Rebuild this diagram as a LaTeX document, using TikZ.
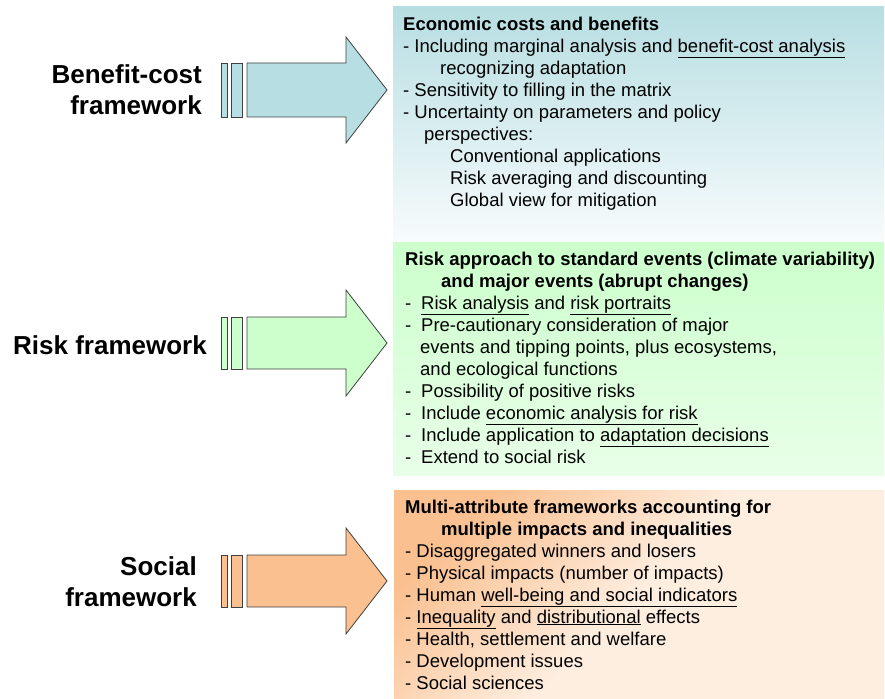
\documentclass[tikz,border=0pt]{standalone}
\usepackage{fontspec}
\setmainfont{Liberation Sans}
\definecolor{bcfill}{RGB}{183,222,226}
\definecolor{bclight}{RGB}{247,251,252}
\definecolor{riskfill}{RGB}{204,255,204}
\definecolor{risklight}{RGB}{232,255,232}
\definecolor{socfill}{RGB}{250,192,144}
\definecolor{soclight}{RGB}{254,238,224}
\newcommand{\dashitem}{\makebox[16pt][l]{-}}
\begin{document}
\begin{tikzpicture}[x=1pt,y=-1pt,
    outline/.style={draw=black!75,line width=0.8pt},
    framename/.style={font=\fontsize{26}{31}\selectfont\bfseries,align=right,anchor=base east,inner sep=0pt},
    boxtext/.style={font=\fontsize{18.5}{22}\selectfont,align=left,anchor=base west,inner sep=0pt}]
          \useasboundingbox (0,0) rectangle (885,698);

          \shade[top color=bcfill,bottom color=bclight] (393,7) rectangle (884,241);
          \shade[top color=riskfill,bottom color=risklight] (393,242) rectangle (884,475);
          \shade[top color=socfill,bottom color=soclight,middle color=soclight,shading angle=45] (394,490) rectangle (884,698);

          \draw[outline,fill=bcfill] (221,63) rectangle (227,117);
          \draw[outline,fill=bcfill] (231,63) rectangle (242,117);
          \draw[outline,fill=bcfill] (247,63) -- (346,63) -- (346,37) -- (387,90) -- (346,143) -- (346,117) -- (247,117) -- cycle;

          \draw[outline,fill=riskfill] (221,317) rectangle (227,369);
          \draw[outline,fill=riskfill] (231,317) rectangle (242,369);
          \draw[outline,fill=riskfill] (247,317) -- (346,317) -- (346,290) -- (387,343) -- (346,396) -- (346,369) -- (247,369) -- cycle;

          \draw[outline,fill=socfill] (221,555) rectangle (227,607);
          \draw[outline,fill=socfill] (231,555) rectangle (242,607);
          \draw[outline,fill=socfill] (247,555) -- (346,555) -- (346,528) -- (387,581) -- (346,634) -- (346,607) -- (247,607) -- cycle;

          \node[framename] (bcname) at (202,114) {Benefit-cost\\framework};
          \node[framename] (riskname) at (207,354) {Risk framework};
          \node[framename] (socname) at (197,606) {Social\\framework};

          \node[boxtext] (bctext) at (403,206) {\textbf{Economic costs and benefits}\\
            - Including marginal analysis and \underline{benefit-cost analysis}\\
            \hspace*{37pt}recognizing adaptation\\
            - Sensitivity to filling in the matrix\\
            - Uncertainty on parameters and policy\\
            \hspace*{21pt}perspectives:\\
            \hspace*{47pt}Conventional applications\\
            \hspace*{47pt}Risk averaging and discounting\\
            \hspace*{47pt}Global view for mitigation};
          \node[boxtext] (risktext) at (405,463) {\textbf{Risk approach to standard events (climate variability)}\\
            \hspace*{36pt}\textbf{and major events (abrupt changes)}\\
            \dashitem\underline{Risk analysis} and \underline{risk portraits}\\
            \dashitem Pre-cautionary consideration of major\\
            \hspace*{15pt}events and tipping points, plus ecosystems,\\
            \hspace*{15pt}and ecological functions\\
            \dashitem Possibility of positive risks\\
            \dashitem Include \underline{economic analysis for risk}\\
            \dashitem Include application to \underline{adaptation decisions}\\
            \dashitem Extend to social risk};
          \node[boxtext] (soctext) at (405,689) {\textbf{Multi-attribute frameworks accounting for}\\
            \hspace*{36pt}\textbf{multiple impacts and inequalities}\\
            - Disaggregated winners and losers\\
            - Physical impacts (number of impacts)\\
            - Human \underline{well-being and social indicators}\\
            - \underline{Inequality} and \underline{distributional} effects\\
            - Health, settlement and welfare\\
            - Development issues\\
            - Social sciences};
        \end{tikzpicture}
\end{document}
